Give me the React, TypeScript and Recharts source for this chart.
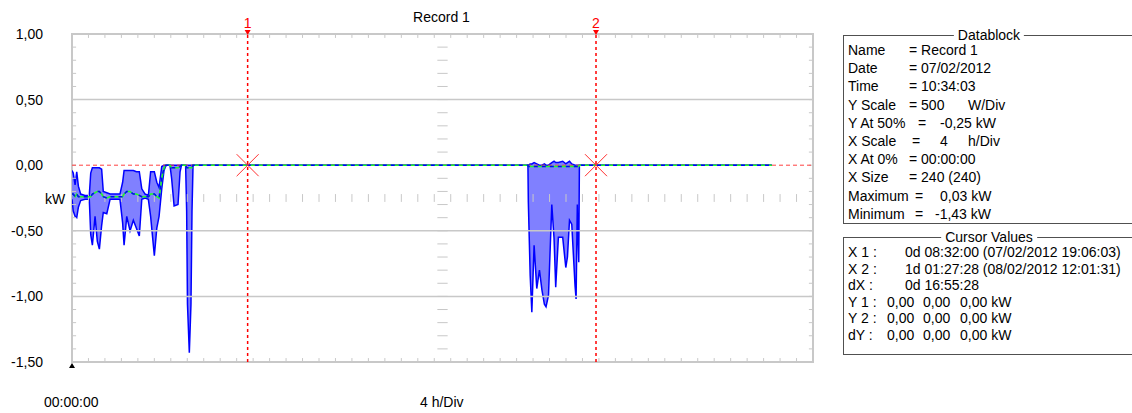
import {
  Area,
  ComposedChart,
  Line,
  ReferenceArea,
  ReferenceDot,
  ReferenceLine,
  XAxis,
  YAxis,
} from "recharts";

// time in hours from record start (X At 0% = 00:00:00), values in kW
const hours = [
  0, 0.06, 0.15, 0.23, 0.31, 0.42, 0.63, 0.84, 0.91, 0.99,
  1.12, 1.23, 1.33, 1.44, 1.52, 1.69, 1.85, 2.17, 2.33, 2.46,
  2.53, 2.66, 2.82, 2.98, 3.13, 3.27, 3.39, 3.55, 3.71, 3.82,
  4.0, 4.12, 4.23, 4.36, 4.47, 4.57, 4.76, 4.84, 4.96, 5.15,
  5.25, 5.32, 5.52, 5.57, 5.61, 5.7, 5.78, 5.83, 5.88,
  22.15, 22.17, 22.26, 22.34, 22.45, 22.58, 22.71, 22.83, 22.95, 23.03,
  23.15, 23.31, 23.42, 23.5, 23.63, 23.84, 23.99, 24.07, 24.17, 24.28,
  24.44, 24.49, 24.55, 24.62, 24.65, 34.0,
];
const maxKw = [
  -0.04, -0.06, -0.15, -0.05, -0.16, -0.22, -0.23, -0.23, -0.06, -0.02,
  -0.02, -0.02, -0.02, -0.03, -0.2, -0.21, -0.22, -0.22, -0.22, -0.13,
  -0.04, -0.04, -0.04, -0.04, -0.05, -0.05, -0.18, -0.22, -0.23, -0.05,
  -0.05, -0.13, -0.17, -0.01, 0, 0, 0, 0, 0, 0,
  0, 0, 0, 0, 0, 0, 0, 0, 0,
  0, 0, 0.01, 0.01, 0.02, 0.01, 0, 0, 0.01, 0,
  0, 0.02, 0.03, 0.02, 0.02, 0.03, 0.01, 0.02, 0.03, 0.01,
  0, 0, 0, 0, 0, 0,
];
const minKw = [
  -0.26, -0.35, -0.39, -0.4, -0.32, -0.27, -0.26, -0.26, -0.53, -0.61,
  -0.39, -0.58, -0.64, -0.46, -0.36, -0.37, -0.26, -0.26, -0.26, -0.44,
  -0.61, -0.39, -0.5, -0.42, -0.48, -0.54, -0.26, -0.25, -0.26, -0.39,
  -0.69, -0.48, -0.39, -0.18, -0.04, 0, 0, -0.1, -0.31, -0.3,
  -0.05, 0, 0, -0.35, -1.06, -1.43, -1.06, -0.35, 0,
  0, -0.28, -0.84, -1.12, -0.61, -0.94, -0.8, -0.95, -1.06, -1.08,
  -0.99, -0.3, -0.56, -0.93, -0.55, -0.55, -0.78, -0.7, -0.42, -0.45,
  -0.92, -1.02, -0.3, -0.74, 0, 0,
];
const avgKw = [
  -0.22, -0.22, -0.24, -0.22, -0.24, -0.24, -0.24, -0.24, -0.24, -0.22,
  -0.21, -0.2, -0.2, -0.22, -0.24, -0.25, -0.24, -0.24, -0.24, -0.24,
  -0.22, -0.2, -0.2, -0.22, -0.22, -0.23, -0.24, -0.24, -0.24, -0.22,
  -0.22, -0.24, -0.25, -0.1, -0.02, 0, 0, -0.02, -0.02, -0.02,
  -0.01, 0, 0, -0.02, -0.02, -0.02, -0.02, -0.02, 0,
  0, -0.01, -0.01, -0.01, -0.01, -0.01, -0.01, -0.01, -0.01, -0.01,
  -0.01, -0.01, -0.01, -0.01, -0.01, -0.01, -0.01, -0.01, -0.01, -0.01,
  -0.01, -0.01, -0.01, -0.01, 0, 0,
];

const yTicks = [-1.5, -1, -0.5, 0, 0.5, 1];
const gridLevels = [0.5, -0.5, -1];
// cursor times: X1 = 0d 08:32:00, X2 = 1d 01:27:28
const cursors = [
  { id: "1", h: 8 + 32 / 60 },
  { id: "2", h: 25 + 27 / 60 + 28 / 3600 },
];

const datablockRows: [string, number][][] = [
  [["Name", 848], ["= Record 1", 909]],
  [["Date", 848], ["= 07/02/2012", 909]],
  [["Time", 848], ["= 10:34:03", 909]],
  [["Y Scale", 848], ["= 500", 909], ["W/Div", 968]],
  [["Y At 50%", 848], ["=", 918], ["-0,25 kW", 940]],
  [["X Scale", 848], ["=", 912], ["4", 940], ["h/Div", 968]],
  [["X At 0%", 848], ["= 00:00:00", 909]],
  [["X Size", 848], ["= 240 (240)", 909]],
  [["Maximum", 848], ["=", 915], ["0,03 kW", 940]],
  [["Minimum", 848], ["=", 915], ["-1,43 kW", 935]],
];
const cursorRows: [string, number][][] = [
  [["X 1 :", 848], ["0d 08:32:00 (07/02/2012 19:06:03)", 905]],
  [["X 2 :", 848], ["1d 01:27:28 (08/02/2012 12:01:31)", 905]],
  [["dX :", 848], ["0d 16:55:28", 905]],
  [["Y 1 :", 848], ["0,00", 887], ["0,00", 923], ["0,00 kW", 960]],
  [["Y 2 :", 848], ["0,00", 887], ["0,00", 923], ["0,00 kW", 960]],
  [["dY :", 848], ["0,00", 887], ["0,00", 923], ["0,00 kW", 960]],
];

const data = hours.map((h, i) => ({
  h,
  range: [minKw[i], maxKw[i]],
  avg: avgKw[i],
}));

// minor division ticks (0.8 h and 0.1 kW)
const xMinor = Array.from({ length: 44 }, (_, i) => +((i + 1) * 0.8).toFixed(2));
const yMinor = Array.from({ length: 24 }, (_, i) => +(-1.4 + i * 0.1).toFixed(2));

const GRID = "#c8c8c8";
const FONT = "'Liberation Sans', Arial, sans-serif";

const fmt = (v: number) => v.toFixed(2).replace(".", ",");

const CrossMark = (p: any) => (
  <g>
    <line x1={p.cx - 11} y1={p.cy - 11} x2={p.cx + 11} y2={p.cy + 11} stroke="#ff3030" />
    <line x1={p.cx - 11} y1={p.cy + 11} x2={p.cx + 11} y2={p.cy - 11} stroke="#ff3030" />
  </g>
);
const DownArrow = (p: any) => (
  <polygon points={`${p.cx - 3},${p.cy - 4} ${p.cx + 3},${p.cy - 4} ${p.cx},${p.cy + 1}`} fill="#ff0000" />
);
const UpArrow = (p: any) => (
  <polygon points={`${p.cx - 3},${p.cy + 6} ${p.cx + 3},${p.cy + 6} ${p.cx},${p.cy + 1}`} fill="#000" />
);

function TextAt({ text, x, y, color = "#000", center = false }: any) {
  return (
    <div
      style={{
        position: "absolute",
        left: x,
        top: y - 8,
        lineHeight: "16px",
        fontSize: 14,
        color,
        whiteSpace: "pre",
        transform: center ? "translateX(-50%)" : undefined,
      }}
    >
      {text}
    </div>
  );
}

function GroupBox({ title, top, height }: { title: string; top: number; height: number }) {
  return (
    <>
      <div
        style={{
          position: "absolute",
          left: 843,
          top,
          width: 300,
          height,
          borderTop: "1px solid #505050",
          borderLeft: "1px solid #505050",
          borderBottom: "1px solid #505050",
          boxShadow: "inset 1px 1px 0 #ffffff",
        }}
      />
      <div
        style={{
          position: "absolute",
          left: 989,
          top: top - 8,
          lineHeight: "16px",
          fontSize: 14,
          background: "#fff",
          padding: "0 4px",
          transform: "translateX(-50%)",
          whiteSpace: "pre",
        }}
      >
        {title}
      </div>
    </>
  );
}

export default function App() {
  return (
    <div
      style={{
        position: "absolute",
        left: 0,
        top: 0,
        width: 1132,
        height: 413,
        overflow: "hidden",
        background: "#fff",
        fontFamily: FONT,
      }}
    >
      <div style={{ position: "absolute", left: 0, top: 0 }}>
        <ComposedChart
          width={830}
          height={413}
          data={data}
          margin={{ top: 34, right: 17, bottom: 51, left: 0 }}
          style={{ fontFamily: FONT }}
        >
          <XAxis dataKey="h" type="number" domain={[0, 36]} hide allowDataOverflow />
          <YAxis
            type="number"
            domain={[-1.5, 1]}
            ticks={yTicks}
            interval={0}
            width={72}
            axisLine={false}
            tickLine={false}
            tickSize={6}
            tickMargin={23}
            tick={{ fill: "#000", fontSize: 14 }}
            tickFormatter={fmt}
            allowDataOverflow
          />

          {gridLevels.map((v) => (
            <ReferenceLine key={`g${v}`} y={v} stroke={GRID} strokeWidth={1.5} />
          ))}
          {xMinor.map((t) => (
            <ReferenceLine key={`t${t}`} ifOverflow="visible" segment={[{ x: t, y: 1 }, { x: t, y: 0.97 }]} stroke={GRID} />
          ))}
          {xMinor.map((t) => (
            <ReferenceLine key={`b${t}`} ifOverflow="visible" segment={[{ x: t, y: -1.5 }, { x: t, y: -1.47 }]} stroke={GRID} />
          ))}
          {xMinor.map((t) => (
            <ReferenceLine key={`c${t}`} ifOverflow="visible" segment={[{ x: t, y: -0.22 }, { x: t, y: -0.28 }]} stroke={GRID} />
          ))}
          {yMinor.map((v) => (
            <ReferenceLine key={`l${v}`} ifOverflow="visible" segment={[{ x: 0, y: v }, { x: 0.2, y: v }]} stroke={GRID} />
          ))}
          {yMinor.map((v) => (
            <ReferenceLine key={`r${v}`} ifOverflow="visible" segment={[{ x: 35.8, y: v }, { x: 36, y: v }]} stroke={GRID} />
          ))}
          {yMinor.map((v) => (
            <ReferenceLine key={`m${v}`} ifOverflow="visible" segment={[{ x: 17.75, y: v }, { x: 18.25, y: v }]} stroke={GRID} />
          ))}
          <ReferenceArea x1={0} x2={36} y1={-1.5} y2={1} fill="none" stroke={GRID} strokeWidth={2} ifOverflow="visible" />
          <ReferenceLine y={0} stroke="#ff4040" strokeDasharray="4 3" />

          <Area
            dataKey="range"
            type="linear"
            stroke="#0000ff"
            strokeWidth={1.5}
            fill="#8080ff"
            fillOpacity={1}
            dot={false}
            activeDot={false}
            isAnimationActive={false}
          />
          <Line dataKey="avg" type="linear" stroke="#20ff20" strokeWidth={1.5} dot={false} activeDot={false} isAnimationActive={false} />
          <Line
            dataKey={(d: any) => d.avg}
            name="avgDash"
            type="linear"
            stroke="#0000ff"
            strokeWidth={1.5}
            strokeDasharray="4 4"
            dot={false}
            activeDot={false}
            isAnimationActive={false}
          />

          {cursors.map((c) => (
            <ReferenceLine
              key={`cur${c.id}`}
              x={c.h}
              stroke="#ff0000"
              strokeWidth={1.5}
              strokeDasharray="3 3"
              label={{ value: c.id, position: "top", fill: "#ff0000", fontSize: 14, offset: 6 }}
            />
          ))}
          {cursors.map((c) => (
            <ReferenceDot key={`x${c.id}`} x={c.h} y={0} ifOverflow="visible" shape={CrossMark} />
          ))}
          {cursors.map((c) => (
            <ReferenceDot key={`a${c.id}`} x={c.h} y={1} ifOverflow="visible" shape={DownArrow} />
          ))}
          <ReferenceDot x={0} y={-1.5} ifOverflow="visible" shape={UpArrow} />
        </ComposedChart>
      </div>

      <TextAt text="Record 1" x={441.5} y={17} center />
      <TextAt text="kW" x={45} y={199} />
      <TextAt text="00:00:00" x={44} y={402} />
      <TextAt text="4 h/Div" x={420} y={402} />

      <GroupBox title="Datablock" top={35} height={187} />
      {datablockRows.map((row, i) =>
        row.map(([t, x], j) => <TextAt key={`d${i}-${j}`} text={t} x={x} y={50 + i * 18.2} />)
      )}
      <GroupBox title="Cursor Values" top={237} height={116} />
      {cursorRows.map((row, i) =>
        row.map(([t, x], j) => <TextAt key={`c${i}-${j}`} text={t} x={x} y={252 + i * 16.5} />)
      )}
    </div>
  );
}
